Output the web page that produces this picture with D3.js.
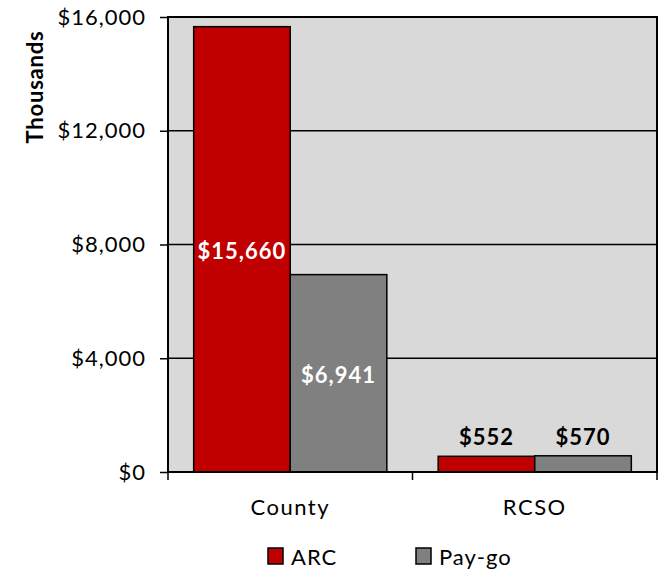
<!DOCTYPE html>
<html>
<head>
<meta charset="utf-8">
<script src="https://cdn.jsdelivr.net/npm/d3@7"></script>
<style>
  body { margin: 0; background: #fff; }
  svg { font-family: Lato, "Open Sans", sans-serif; }
</style>
</head>
<body>
<svg id="chart"></svg>
<script>
const categories = ['County', 'RCSO'];
const seriesNames = ['ARC', 'Pay-go'];
const arcValues = [15660, 552];
const paygoValues = [6941, 570];
const yTicks = [0, 4000, 8000, 12000, 16000];
const seriesColors = ['#C00000', '#808080'];

const width = 662;
const height = 572;
const margin = { left: 168, right: 5, top: 17, bottom: 100 };

const data = categories.map((c, i) => ({
  name: c,
  values: [
    { key: seriesNames[0], value: arcValues[i] },
    { key: seriesNames[1], value: paygoValues[i] },
  ],
}));

const svg = d3.select('#chart').attr('width', width).attr('height', height);

const x0 = d3
  .scaleBand()
  .domain(categories)
  .range([margin.left, width - margin.right]);
const x1 = d3
  .scaleBand()
  .domain(seriesNames)
  .range([x0.bandwidth() * 0.105, x0.bandwidth() * 0.895]);
const y = d3
  .scaleLinear()
  .domain([0, 16000])
  .range([height - margin.bottom, margin.top]);
const color = d3.scaleOrdinal().domain(seriesNames).range(seriesColors);

// plot background
svg
  .append('rect')
  .attr('x', margin.left)
  .attr('y', margin.top)
  .attr('width', width - margin.left - margin.right)
  .attr('height', y(0) - margin.top)
  .attr('fill', '#D9D9D9');

// gridlines
svg
  .append('g')
  .selectAll('line')
  .data(yTicks.slice(1, -1))
  .join('line')
  .attr('x1', margin.left)
  .attr('x2', width - margin.right)
  .attr('y1', (d) => y(d))
  .attr('y2', (d) => y(d))
  .attr('stroke', '#000')
  .attr('stroke-width', 1.5);

// bars
const groups = svg
  .append('g')
  .selectAll('g')
  .data(data)
  .join('g')
  .attr('transform', (d) => `translate(${x0(d.name)},0)`);

groups
  .selectAll('rect')
  .data((d) => d.values)
  .join('rect')
  .attr('x', (d) => x1(d.key))
  .attr('y', (d) => y(d.value))
  .attr('width', x1.bandwidth())
  .attr('height', (d) => y(0) - y(d.value))
  .attr('fill', (d) => color(d.key))
  .attr('stroke', '#000')
  .attr('stroke-width', 1.5);

const fmt = (v) => '$' + d3.format(',')(v);
const inside = (d) => y(0) - y(d.value) > 60;

groups
  .selectAll('text')
  .data((d) => d.values)
  .join('text')
  .attr('x', (d) => x1(d.key) + x1.bandwidth() / 2)
  .attr('y', (d) => {
    const h = y(0) - y(d.value);
    return inside(d) ? y(d.value) + h / 2 + 10 : y(d.value) - 11;
  })
  .attr('text-anchor', 'middle')
  .attr('font-weight', 'bold')
  .attr('font-size', 22)
  .attr('letter-spacing', 1)
  .attr('fill', (d) => (inside(d) ? '#fff' : '#000'))
  .text((d) => fmt(d.value));

// plot border
svg
  .append('rect')
  .attr('x', margin.left)
  .attr('y', margin.top)
  .attr('width', width - margin.left - margin.right)
  .attr('height', y(0) - margin.top)
  .attr('fill', 'none')
  .attr('stroke', '#000')
  .attr('stroke-width', 2);

// y axis
const yAxis = (g) =>
  g
    .attr('transform', `translate(${margin.left},0)`)
    .call(
      d3
        .axisLeft(y)
        .tickValues(yTicks)
        .tickSize(8)
        .tickPadding(14)
        .tickFormat((d) => fmt(d)),
    )
    .call((g) => g.select('.domain').remove())
    .call((g) => g.selectAll('line').attr('stroke-width', 1.5))
    .call((g) =>
      g
        .selectAll('text')
        .attr('font-size', 22)
        .attr('letter-spacing', 1)
        .attr('font-family', 'Lato, sans-serif')
        .attr('fill', '#000'),
    );
svg.append('g').call(yAxis);

// x axis
const xAxis = (g) =>
  g
    .attr('transform', `translate(0,${y(0)})`)
    .call(d3.axisBottom(x0).tickSize(0).tickPadding(27))
    .call((g) => g.select('.domain').remove())
    .call((g) =>
      g
        .selectAll('text')
        .attr('font-size', 22)
        .attr('letter-spacing', 1.5)
        .attr('font-family', 'Lato, sans-serif')
        .attr('fill', '#000'),
    );
svg.append('g').call(xAxis);

// x axis boundary ticks
const boundaries = [x0.range()[0], ...categories.slice(1).map((c) => x0(c)), x0.range()[1]];
svg
  .append('g')
  .selectAll('line')
  .data(boundaries)
  .join('line')
  .attr('x1', (d) => d)
  .attr('x2', (d) => d)
  .attr('y1', y(0))
  .attr('y2', y(0) + 8)
  .attr('stroke', '#000')
  .attr('stroke-width', 1.5);

// y axis title
svg
  .append('text')
  .attr('transform', 'translate(43,87) rotate(-90)')
  .attr('text-anchor', 'middle')
  .attr('font-weight', 'bold')
  .attr('font-size', 22)
  .attr('letter-spacing', 0.8)
  .text('Thousands');

// legend
const legendX = [268, 416];
const legend = svg
  .append('g')
  .selectAll('g')
  .data(seriesNames)
  .join('g')
  .attr('transform', (d, i) => `translate(${legendX[i]},548)`);
legend
  .append('rect')
  .attr('width', 15)
  .attr('height', 16)
  .attr('fill', (d) => color(d))
  .attr('stroke', '#000')
  .attr('stroke-width', 1.5);
legend
  .append('text')
  .attr('x', 23)
  .attr('y', 17)
  .attr('font-size', 22)
  .attr('letter-spacing', 1)
  .text((d) => d);
</script>
</body>
</html>
